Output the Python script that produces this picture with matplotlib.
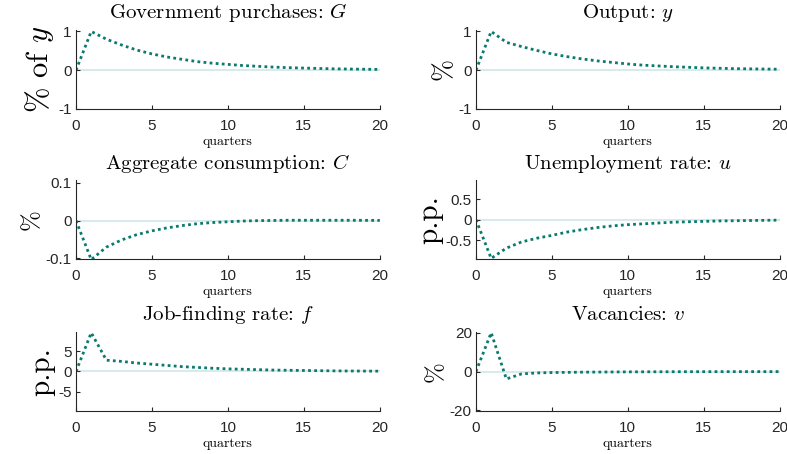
import numpy as np
import matplotlib
matplotlib.use('Agg')
import matplotlib.pyplot as plt

# Impulse responses to a government purchases shock, quarters 0..20
quarters = np.arange(21)

G_resp = [0, 1.0, 0.80, 0.65, 0.52, 0.42, 0.34, 0.28, 0.22, 0.18, 0.15,
          0.12, 0.10, 0.08, 0.065, 0.055, 0.045, 0.035, 0.03, 0.025, 0.02]
y_resp = [0, 1.0, 0.72, 0.61, 0.51, 0.42, 0.35, 0.29, 0.24, 0.20, 0.16,
          0.13, 0.11, 0.09, 0.075, 0.06, 0.05, 0.04, 0.035, 0.03, 0.025]
C_resp = [0, -0.103, -0.070, -0.051, -0.037, -0.027, -0.019, -0.013, -0.008,
          -0.005, -0.003, -0.001, 0.0, 0.0005, 0.001, 0.001, 0.001, 0.001,
          0.001, 0.0008, 0.0006]
u_resp = [0, -0.94, -0.69, -0.54, -0.45, -0.38, -0.30, -0.24, -0.19, -0.15,
          -0.12, -0.10, -0.08, -0.06, -0.05, -0.04, -0.03, -0.025, -0.02,
          -0.015, -0.01]
f_resp = [0, 9.6, 2.8, 2.5, 2.1, 1.8, 1.5, 1.2, 1.0, 0.8, 0.65, 0.55, 0.45,
          0.35, 0.3, 0.25, 0.2, 0.15, 0.12, 0.1, 0.08]
v_resp = [0, 20.0, -3.8, -1.2, -0.7, -0.5, -0.4, -0.3, -0.25, -0.2, -0.15,
          -0.12, -0.1, -0.08, -0.06, -0.05, -0.04, -0.03, -0.02, -0.02, -0.01]

titles = ['Government purchases: $G$', 'Output: $y$',
          'Aggregate consumption: $C$', 'Unemployment rate: $u$',
          'Job-finding rate: $f$', 'Vacancies: $v$']
ylabels = ['% of $y$', '%', '%', 'p.p.', 'p.p.', '%']
ylabel_sizes = [22, 19, 18, 21, 21, 18]
ylims = [(-1, 1.05), (-1, 1.05), (-0.102, 0.108), (-0.96, 0.97),
         (-9.8, 9.9), (-20.3, 20.6)]
yticks = [[-1, 0, 1], [-1, 0, 1], [-0.1, 0, 0.1], [-0.5, 0, 0.5],
          [-5, 0, 5], [-20, 0, 20]]
series = [G_resp, y_resp, C_resp, u_resp, f_resp, v_resp]

plt.rcParams['mathtext.fontset'] = 'cm'
plt.rcParams['axes.unicode_minus'] = False
plt.rcParams['font.family'] = ['Liberation Sans', 'DejaVu Sans']

line_col = '#0b7a6e'
zero_col = '#cfe8e6'
axis_col = '#262626'

fig = plt.figure(figsize=(7.87, 4.54), dpi=100)

lefts = [0.0966, 0.6048]
bottoms = [0.760, 0.429, 0.0947]
w, h = 0.386, 0.175

for i in range(6):
    row, col = i // 2, i % 2
    ax = fig.add_axes([lefts[col], bottoms[row], w, h])
    ax.axhline(0, color=zero_col, lw=1.2, zorder=1)
    ax.plot(quarters, series[i], color=line_col, lw=2.0, ls=(0, (1, 1.2)),
            zorder=2)
    ax.set_xlim(0, 20)
    ax.set_ylim(*ylims[i])
    ax.set_xticks([0, 5, 10, 15, 20])
    ax.set_yticks(yticks[i])
    ax.set_yticklabels([('%g' % t) for t in yticks[i]])
    ax.spines['top'].set_visible(False)
    ax.spines['right'].set_visible(False)
    for s in ['left', 'bottom']:
        ax.spines[s].set_color(axis_col)
        ax.spines[s].set_linewidth(0.8)
    ax.tick_params(direction='in', length=3, width=0.8, colors=axis_col,
                   labelsize=11, pad=3)
    ax.tick_params(axis='x', pad=7)
    ax.set_title(titles[i], fontfamily='cmr10', fontsize=15, pad=8)
    ax.set_ylabel(ylabels[i], fontfamily='cmr10', fontsize=ylabel_sizes[i],
                  labelpad=2)
    ax.set_xlabel('quarters', fontfamily='cmr10', fontsize=10, labelpad=2)

fig.savefig('out.png', dpi=100)
